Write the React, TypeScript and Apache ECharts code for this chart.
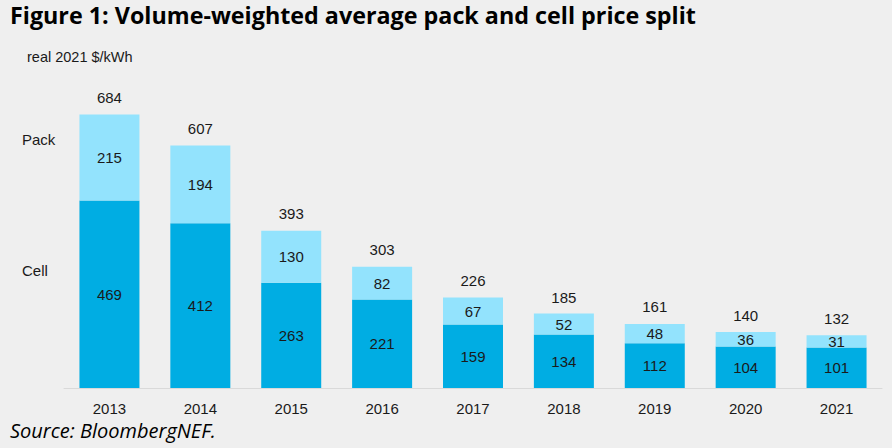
import React, { useEffect, useRef } from "react";
import * as echarts from "echarts";

const years = ["2013", "2014", "2015", "2016", "2017", "2018", "2019", "2020", "2021"];
const cellPrice = [469, 412, 263, 221, 159, 134, 112, 104, 101];
const packPrice = [215, 194, 130, 82, 67, 52, 48, 36, 31];
const totalPrice = [684, 607, 393, 303, 226, 185, 161, 140, 132];

const CELL_COLOR = "#00ADE3";
const PACK_COLOR = "#93E3FD";
const BG = "#EFEFEF";
const LABEL_FONT = "Liberation Sans, Arial, sans-serif";
const TEXT = "#1a1a1a";

export default function App() {
  const ref = useRef<HTMLDivElement>(null);

  useEffect(() => {
    if (!ref.current) return;
    const chart = echarts.init(ref.current, null, { renderer: "svg" });
    chart.setOption({
      animation: false,
      backgroundColor: BG,
      grid: { left: 64, right: 10, top: 68, bottom: 60 },
      xAxis: {
        type: "category",
        data: years,
        axisLine: { lineStyle: { color: "#D9D9D9", width: 1 } },
        axisTick: { show: false },
        axisLabel: { color: TEXT, fontSize: 15, fontFamily: LABEL_FONT, margin: 13 },
      },
      yAxis: {
        type: "value",
        min: 0,
        max: 800,
        show: false,
        splitLine: { show: false },
      },
      series: [
        {
          name: "Cell",
          type: "bar",
          stack: "price",
          barWidth: 60,
          data: cellPrice,
          itemStyle: { color: CELL_COLOR },
          label: { show: true, position: "inside", color: TEXT, fontSize: 15, fontFamily: LABEL_FONT },
        },
        {
          name: "Pack",
          type: "bar",
          stack: "price",
          barWidth: 60,
          data: packPrice,
          itemStyle: { color: PACK_COLOR },
          label: { show: true, position: "inside", color: TEXT, fontSize: 15, fontFamily: LABEL_FONT },
        },
        {
          name: "Total",
          type: "line",
          data: totalPrice,
          symbol: "circle",
          symbolSize: 1,
          showSymbol: true,
          itemStyle: { color: "rgba(0,0,0,0)" },
          lineStyle: { width: 0, color: "rgba(0,0,0,0)" },
          z: 5,
          label: {
            show: true,
            position: "top",
            distance: 9,
            color: TEXT,
            fontSize: 15,
            fontFamily: LABEL_FONT,
          },
        },
      ],
      graphic: [
        {
          type: "text",
          left: 10,
          top: 3,
          style: {
            text: "Figure 1: Volume-weighted average pack and cell price split",
            fontSize: 23.3,
            fontWeight: "bold",
            fontFamily: "Open Sans, Noto Sans, sans-serif",
            fill: "#000",
          },
        },
        {
          type: "text",
          left: 27,
          top: 49,
          style: { text: "real 2021 $/kWh", fontSize: 14.5, fontFamily: LABEL_FONT, fill: TEXT },
        },
        {
          type: "text",
          left: 22,
          top: 132,
          style: { text: "Pack", fontSize: 15, fontFamily: LABEL_FONT, fill: TEXT },
        },
        {
          type: "text",
          left: 22,
          top: 263,
          style: { text: "Cell", fontSize: 15, fontFamily: LABEL_FONT, fill: TEXT },
        },
        {
          type: "text",
          left: 10,
          top: 420,
          style: {
            text: "Source: BloombergNEF.",
            fontSize: 20,
            fontStyle: "italic",
            fontFamily: "Open Sans, Noto Sans, sans-serif",
            fill: "#000",
          },
        },
      ],
    });
    return () => chart.dispose();
  }, []);

  return <div ref={ref} style={{ width: 892, height: 448, position: "absolute", left: 0, top: 0 }} />;
}
